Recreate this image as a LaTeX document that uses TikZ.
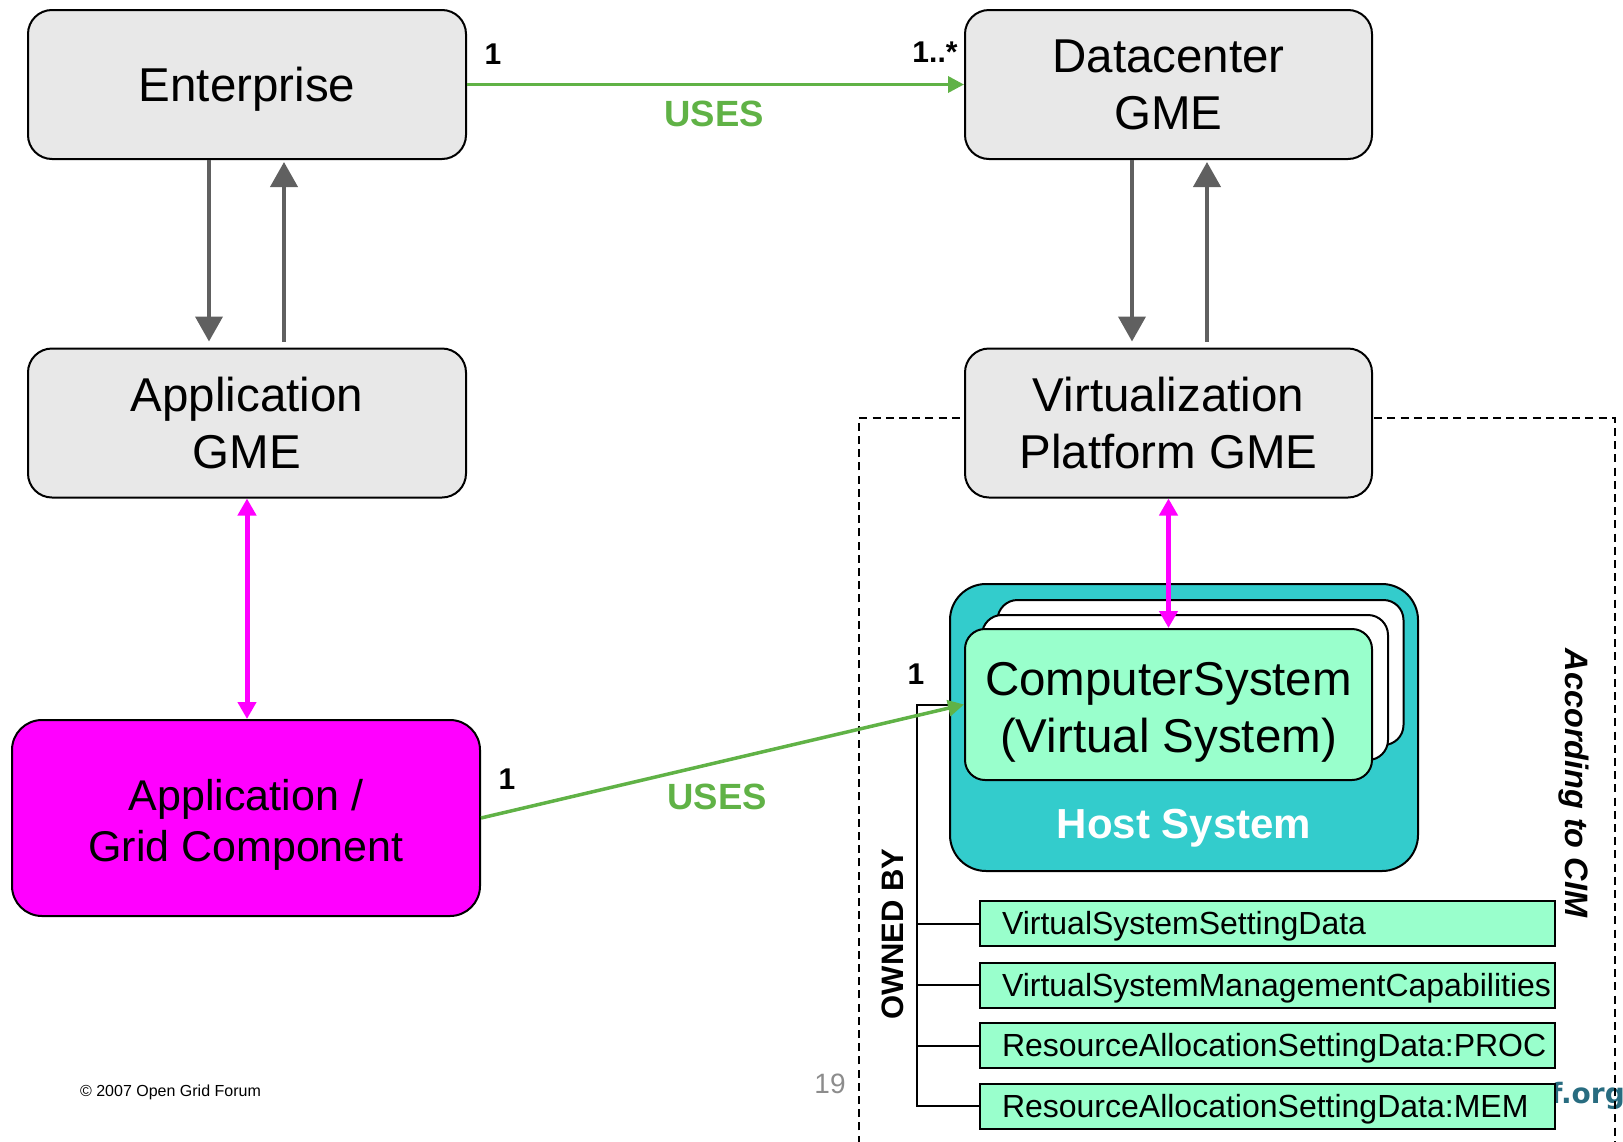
\documentclass[tikz,border=0pt]{standalone}
\usepackage{fontspec}
\setmainfont{Liberation Sans}
\newfontfamily\logofont{DejaVu Sans}
\usetikzlibrary{arrows.meta,calc}

\definecolor{boxgray}{RGB}{232,232,232}
\definecolor{usesgreen}{RGB}{96,178,70}
\definecolor{hostteal}{RGB}{51,204,204}
\definecolor{mint}{RGB}{153,255,204}
\definecolor{linkgray}{RGB}{96,96,96}
\definecolor{pagegray}{RGB}{140,140,140}
\definecolor{logoteal}{RGB}{40,108,128}
\definecolor{brightmag}{RGB}{255,0,255}

\newcommand\datatext[1]{\makebox[265.5pt][l]{#1}}

\begin{document}
\begin{tikzpicture}[x=0.5pt,y=-0.5pt,
  gme/.style={draw=black, line width=1pt, fill=boxgray, rounded corners=12pt,
    minimum width=219pt, minimum height=74.5pt, inner sep=0pt, align=center,
    font=\fontsize{23.75}{28.5}\selectfont},
  gmeright/.style={gme, minimum width=203.5pt},
  component/.style={draw=black, line width=1pt, fill=brightmag, rounded corners=15pt,
    minimum width=234pt, minimum height=98pt, inner sep=0pt, align=center,
    font=\fontsize{21.5}{25.4}\selectfont},
  hostbox/.style={draw=black, line width=1pt, fill=hostteal, rounded corners=18pt,
    minimum width=234pt, minimum height=143.5pt, inner sep=0pt},
  card/.style={draw=black, line width=1pt, fill=white, rounded corners=10pt,
    minimum width=203pt, minimum height=72.5pt, inner sep=0pt},
  vsys/.style={card, fill=mint, minimum width=203.5pt, minimum height=75.5pt,
    align=center, font=\fontsize{23.75}{28.5}\selectfont},
  databox/.style={draw=black, line width=1pt, fill=mint,
    minimum width=287.5pt, minimum height=22.5pt, inner sep=0pt,
    text height=13pt, text depth=2pt, font=\fontsize{16}{19}\selectfont},
  mult/.style={inner sep=0pt, font=\fontsize{15}{18}\selectfont\bfseries},
  useslbl/.style={inner sep=0pt, text=usesgreen, font=\fontsize{18.25}{22}\selectfont\bfseries},
  navlink/.style={draw=linkgray, line width=2pt, -{Triangle[length=12.5pt,width=13.5pt]}},
  maplink/.style={draw=brightmag, line width=2.5pt,
    {Triangle[length=8.5pt,width=9pt]}-{Triangle[length=8.5pt,width=9pt]}},
  useslink/.style={draw=usesgreen, line width=1.75pt, -{Triangle[length=8pt,width=8pt]}},
  ownline/.style={draw=black, line width=1pt},
]
\useasboundingbox (0,0) rectangle (1623,1141);

% partial web address behind the last data box
\node[anchor=base west, inner sep=0pt, text=logoteal,
  font=\logofont\fontsize{14}{17}\selectfont\bfseries] (weblogo) at (1550,1103) {f.org};

% region modelled after CIM
\draw[line width=1pt, dash pattern=on 4pt off 2.6pt] (859,1170) -- (859,418) -- (1615,418) -- (1615,1170);

% management entities
\node[gme, text depth=0pt] (ent) at (247,84.5) {Enterprise};
\node[gmeright] (dc) at (1168.5,84.5) {Datacenter\\GME};
\node[gme] (appgme) at (247,423) {Application\\GME};
\node[gmeright] (vpg) at (1168.5,423) {Virtualization\\Platform GME};
\node[component] (agc) at (246,818) {\rule{0pt}{22.4pt}Application /\\Grid Component};

% host with its stack of virtual systems
\node[hostbox] (host) at (1184,727.5) {};
\node[card] (card3) at (1200.5,672.5) {};
\node[card] (card2) at (1185,687.5) {};
\node[vsys] (cs) at (1168.5,704.5) {\rule{0pt}{24.5pt}ComputerSystem\\(Virtual System)};
\node[inner sep=0pt, text=white, font=\fontsize{21}{25}\selectfont\bfseries]
  (hostlbl) at (1184,828) {Host System};

% owned setting data
\node[databox] (d1) at (1267.5,923.5) {\datatext{VirtualSystemSettingData}};
\node[databox] (d2) at (1267.5,985) {\datatext{VirtualSystemManagementCapabilities}};
\node[databox] (d3) at (1267.5,1045.5) {\datatext{ResourceAllocationSettingData:PROC}};
\node[databox] (d4) at (1267.5,1106) {\datatext{ResourceAllocationSettingData:MEM}};

% ownership bracket
\coordinate (bx) at (917,705);
\draw[ownline] (host.west |- cs.west) -- (bx |- cs.west) -- (bx |- d4.west) -- (d4.west);
\draw[ownline] (bx |- d1.west) -- (d1.west);
\draw[ownline] (bx |- d2.west) -- (d2.west);
\draw[ownline] (bx |- d3.west) -- (d3.west);

% navigation between levels
\draw[navlink] ([xshift=-19pt]ent.south) -- ([xshift=-19pt,yshift=3pt]appgme.north);
\draw[navlink] ([xshift=18.5pt,yshift=3pt]appgme.north) -- ([xshift=18.5pt,yshift=-1pt]ent.south);
\draw[navlink] ([xshift=-18.25pt]dc.south) -- ([xshift=-18.25pt,yshift=3pt]vpg.north);
\draw[navlink] ([xshift=19.25pt,yshift=3pt]vpg.north) -- ([xshift=19.25pt,yshift=-1pt]dc.south);

% mappings
\draw[maplink] (appgme.south) -- (appgme.south |- agc.north);
\draw[maplink] (vpg.south) -- (cs.north);

% uses associations
\draw[useslink] (ent.east) -- (dc.west);
\draw[useslink] (agc.east) -- (cs.west);

% multiplicities and association names
\node[mult] (m1) at (493,54) {1};
\node[mult] (m2) at (935,52) {1..*};
\node[useslbl] (u1) at (714,114) {USES};
\node[mult] (m3) at (507,779) {1};
\node[useslbl] (u2) at (717,797) {USES};
\node[mult] (m4) at (916,674) {1};
\node[inner sep=0pt, rotate=90, font=\fontsize{15.5}{18}\selectfont\bfseries]
  (owned) at (893,934) {OWNED BY};
\node[inner sep=0pt, rotate=-90, font=\fontsize{16.2}{19}\selectfont\bfseries\itshape]
  (cim) at (1574,783) {According to CIM};

% footer
\node[inner sep=0pt, font=\fontsize{8}{9.6}\selectfont] (copy) at (170.5,1092) {© 2007 Open Grid Forum};
\node[inner sep=0pt, text=pagegray, font=\fontsize{14}{17}\selectfont] (page) at (830,1084) {19};
\end{tikzpicture}
\end{document}
